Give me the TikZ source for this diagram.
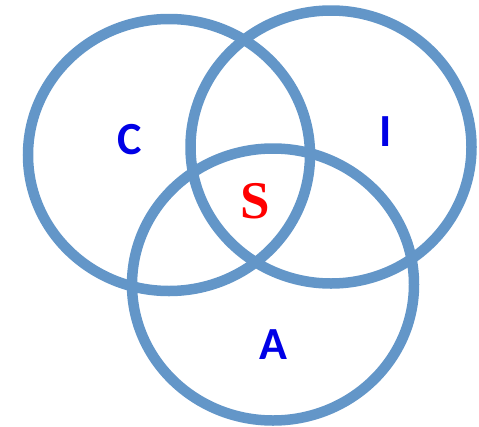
\documentclass[tikz,border=0pt]{standalone}
\usepackage{fontspec}
\newfontfamily\labelfont{Carlito}
\newfontfamily\sfont{Liberation Serif}
\definecolor{ringblue}{RGB}{99,150,200}
\definecolor{txtblue}{RGB}{0,0,230}
\definecolor{txtred}{RGB}{255,0,0}
\tikzset{
  ring/.style={draw=ringblue, line width=10.5pt},
  setlabel/.style={text=txtblue, font=\labelfont\bfseries\fontsize{46}{46}\selectfont, inner sep=0pt},
  corelabel/.style={text=txtred, font=\sfont\bfseries\fontsize{53}{53}\selectfont, inner sep=0pt}
}
\begin{document}
\begin{tikzpicture}[x=1pt,y=-1pt]
\useasboundingbox (0,0) rectangle (479,426);
\draw[ring] (169,155) ellipse [x radius=141pt, y radius=136pt];
\draw[ring] (331,147) ellipse [x radius=140.5pt, y radius=136.5pt];
\draw[ring] (273,284.5) ellipse [x radius=141pt, y radius=136pt];
\node[setlabel] (C) at (130,140) {C};
\node[setlabel] (I) at (386,132) {I};
\node[setlabel] (A) at (273.5,345) {A};
\node[corelabel] (S) at (255,201) {S};
\end{tikzpicture}
\end{document}
